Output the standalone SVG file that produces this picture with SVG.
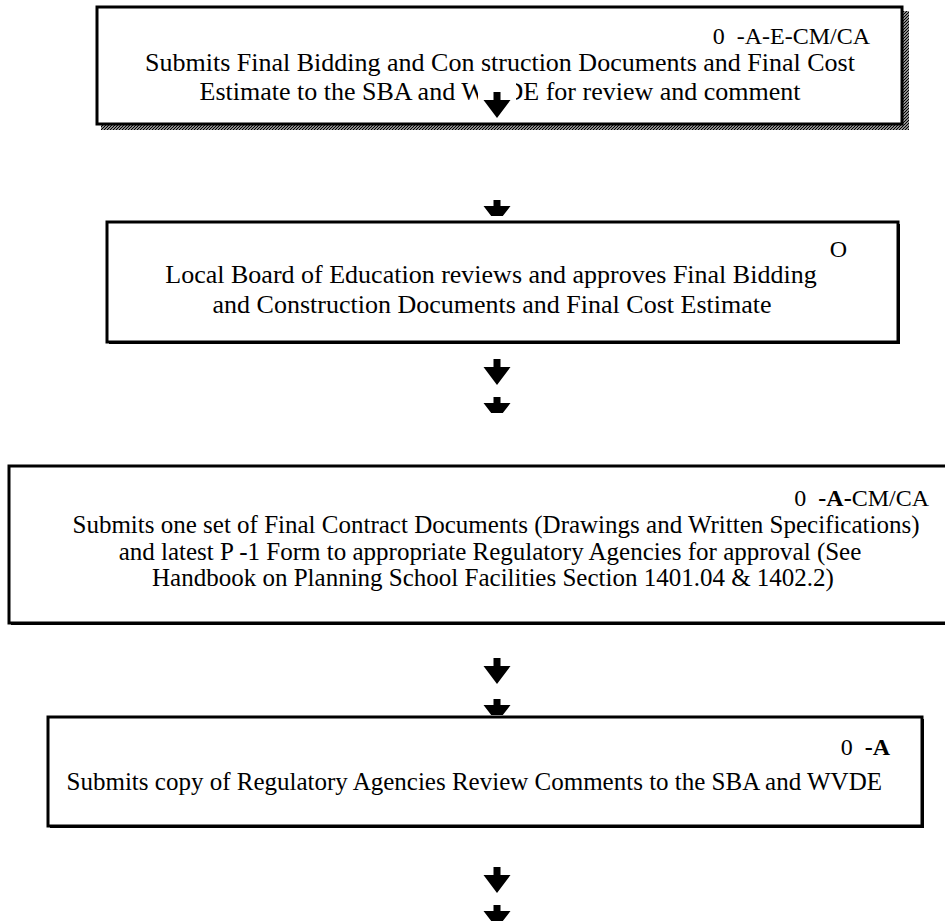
<svg xmlns="http://www.w3.org/2000/svg" width="945" height="923" viewBox="0 0 945 923">
<style>
.box{fill:#fff;stroke:#000;stroke-width:3}
.shadow{fill:#000}
.t{font-family:"Liberation Serif","Times New Roman",serif;font-size:26px;fill:#000}
.t3{font-family:"Liberation Serif","Times New Roman",serif;font-size:25px;fill:#000}
.lbl{font-family:"Liberation Serif","Times New Roman",serif;font-size:24px;fill:#000}
.b{font-weight:bold}
.arrow{fill:#000}
</style>
<defs>
<pattern id="hatch" width="3" height="3" patternUnits="userSpaceOnUse">
<rect width="3" height="3" fill="#fff"/>
<path d="M-1,1 L1,-1 M0,3 L3,0 M2,4 L4,2" stroke="#000" stroke-width="1.3"/>
</pattern>
<path id="full" d="M-3.5,0 H3.5 V8 H13.5 L0,26 L-13.5,8 H-3.5 Z"/>
<path id="trunc" d="M-3.5,0 H3.5 V6 H13.5 L5.8,16 H-5.8 L-13.5,6 H-3.5 Z"/>
</defs>

<g id="node1">
<rect x="101" y="124" width="808" height="6" fill="url(#hatch)"/>
<rect x="903" y="11" width="6" height="119" fill="url(#hatch)"/>
<rect class="box" x="97" y="7" width="805" height="117"/>
<text class="lbl" x="870" y="44" text-anchor="end" xml:space="preserve">0  -A-E-CM/CA</text>
<text class="t" x="500" y="71" text-anchor="middle">Submits Final Bidding and Con struction Documents and Final Cost</text>
<text class="t" x="500" y="100" text-anchor="middle">Estimate to the SBA and WVDE for review and comment</text>
</g>

<g id="node2">
<rect class="shadow" x="109" y="224" width="791" height="120"/>
<rect class="box" x="107" y="222" width="791" height="120"/>
<text class="lbl" x="847" y="257" text-anchor="end">O</text>
<text class="t" x="491" y="283" text-anchor="middle">Local Board of Education reviews and approves Final Bidding</text>
<text class="t" x="492" y="313" text-anchor="middle">and Construction Documents and Final Cost Estimate</text>
</g>

<g id="node3">
<rect class="shadow" x="11" y="468" width="940" height="157"/>
<rect class="box" x="9" y="466" width="940" height="157"/>
<text class="lbl" x="929" y="506" text-anchor="end" xml:space="preserve">0  <tspan class="b">-A-</tspan>CM/CA</text>
<text class="t3" x="496" y="533" text-anchor="middle">Submits one set of Final Contract Documents (Drawings and Written Specifications)</text>
<text class="t3" x="490" y="560" text-anchor="middle">and latest P -1 Form to appropriate Regulatory Agencies for approval (See</text>
<text class="t3" x="493" y="586" text-anchor="middle">Handbook on Planning School Facilities Section 1401.04 &amp; 1402.2)</text>
</g>

<g id="node4">
<rect class="shadow" x="50" y="719" width="874" height="109"/>
<rect class="box" x="48" y="717" width="874" height="109"/>
<text class="lbl" x="890" y="755" text-anchor="end" xml:space="preserve">0  <tspan class="b">-A</tspan></text>
<text class="t3" x="882" y="790" text-anchor="end">Submits copy of Regulatory Agencies Review Comments to the SBA and WVDE</text>
</g>

<g id="connectors" class="arrow">
<rect x="478" y="80" width="38" height="26" fill="#fff"/>
<use href="#full" x="497" y="92"/>
<use href="#trunc" x="497" y="200"/>
<use href="#full" x="497" y="359"/>
<use href="#trunc" x="497" y="397"/>
<use href="#full" x="497" y="658"/>
<use href="#trunc" x="497" y="699"/>
<use href="#full" x="497" y="867"/>
<use href="#trunc" x="497" y="905"/>
</g>
</svg>
